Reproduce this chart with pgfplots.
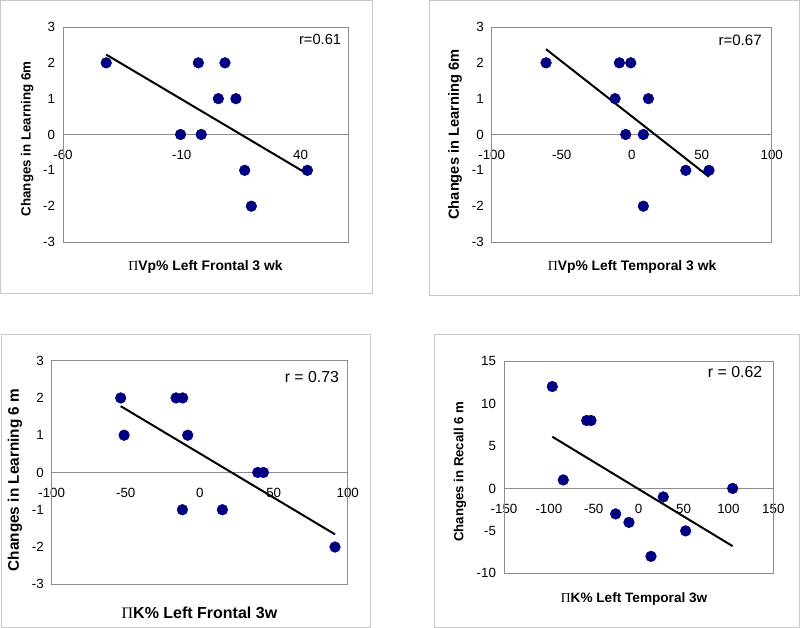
\documentclass[border=0pt]{standalone}
\usepackage{fontspec}
\setmainfont{Liberation Sans}
\newfontfamily\pifont{Liberation Serif}
\usepackage{pgfplots}
\pgfplotsset{compat=1.18}
\definecolor{navy}{RGB}{0,0,128}
\definecolor{framegray}{RGB}{200,200,200}
\definecolor{axgray}{RGB}{140,140,140}
\newcommand{\PiSym}{{\pifont\mdseries Π}}
\pgfplotsset{
  panel/.style={
    scale only axis,
    axis x line=middle, axis y line=left,
    axis line style={-, draw=axgray, line width=0.6pt},
    hide obscured x ticks=false, hide obscured y ticks=false,
    major tick length=0pt,
    tick style={draw=none},
    clip=false,
    ticklabel style={font=\fontsize{10}{12}\selectfont},
    /pgf/number format/assume math mode=true,
    xticklabel style={yshift=-8pt},
    yticklabel style={xshift=-2.5pt},
  },
  xlab/.style={every axis x label/.style={at={(axis description cs:#1)}, anchor=center, font=\bfseries}},
  ylab/.style={every axis y label/.style={at={(axis description cs:#1)}, anchor=center, rotate=90, font=\bfseries}},
  dots/.style={only marks, mark=*, mark size=4pt, mark options={fill=navy, draw=navy}},
  trend/.style={no marks, black, line width=1.5pt},
}
\begin{document}
\begin{tikzpicture}
\path[use as bounding box] (0pt,0pt) rectangle (600pt,-471pt);
% frames
\draw[framegray, line width=0.75pt] (0.375pt,-0.375pt) rectangle (279pt,-219.75pt);
\draw[framegray, line width=0.75pt] (321.75pt,-0.375pt) rectangle (599.6pt,-221.25pt);
\draw[framegray, line width=0.75pt] (1.2pt,-250.5pt) rectangle (277.5pt,-470.6pt);
\draw[framegray, line width=0.75pt] (325.7pt,-250.5pt) rectangle (599.6pt,-470.6pt);

% Panel 1
\begin{axis}[panel, at={(47.25pt,-181.5pt)}, anchor=south west,
  width=213.75pt, height=161.25pt,
  xmin=-60, xmax=60, xtick={-60,-10,40},
  ymin=-3, ymax=3, ytick={-3,-2,-1,0,1,2,3},
  xlab={0.5,-0.116}, ylab={-0.126,0.48},
  xlabel={\fontsize{10.4}{12}\selectfont\PiSym Vp\% Left Frontal 3 wk},
  ylabel={\fontsize{10}{12}\selectfont Changes in Learning 6m},
]
\draw[axgray, line width=0.6pt] (rel axis cs:0,0) rectangle (rel axis cs:1,1);
\addplot[dots] coordinates {(-41.8,2) (-10.5,0) (-3,2) (-1.8,0) (5.4,1) (8.2,2) (12.8,1) (16.5,-1) (19.3,-2) (42.9,-1)};
\addplot[trend] coordinates {(-41.8,2.23) (42.9,-1.10)};
\node[font=\fontsize{11}{13}\selectfont] at (rel axis cs:0.902,0.94) {r=0.61};
\end{axis}

% Panel 2
\begin{axis}[panel, at={(368.8pt,-181.5pt)}, anchor=south west,
  width=210pt, height=161.25pt,
  xmin=-100, xmax=100, xtick={-100,-50,0,50,100},
  ymin=-3, ymax=3, ytick={-3,-2,-1,0,1,2,3},
  xlab={0.501,-0.116}, ylab={-0.131,0.50},
  xlabel={\fontsize{10.4}{12}\selectfont\PiSym Vp\% Left Temporal 3 wk},
  ylabel={\fontsize{11}{13}\selectfont Changes in Learning 6m},
]
\draw[axgray, line width=0.6pt] (rel axis cs:0,0) rectangle (rel axis cs:1,1);
\addplot[dots] coordinates {(-61.2,2) (-8.8,2) (-0.7,2) (-11.9,1) (11.9,1) (-4.3,0) (8.3,0) (38.6,-1) (55.2,-1) (8.3,-2)};
\addplot[trend] coordinates {(-61.2,2.38) (55.2,-1.18)};
\node[font=\fontsize{11.3}{13}\selectfont] at (rel axis cs:0.887,0.94) {r=0.67};
\end{axis}

% Panel 3
\begin{axis}[panel, at={(38.8pt,-438.2pt)}, anchor=south west,
  width=222pt, height=167.7pt,
  xmin=-100, xmax=100, xtick={-100,-50,0,50,100},
  ymin=-3, ymax=3, ytick={-3,-2,-1,0,1,2,3},
  xlab={0.499,-0.128}, ylab={-0.124,0.466},
  xlabel={\fontsize{12}{14}\selectfont\PiSym K\% Left Frontal 3w},
  ylabel={\fontsize{11.5}{13}\selectfont Changes in Learning 6 m},
]
\draw[axgray, line width=0.6pt] (rel axis cs:0,0) rectangle (rel axis cs:1,1);
\addplot[dots] coordinates {(-53.4,2) (-51.1,1) (-16,2) (-11.5,2) (-8.1,1) (-11.7,-1) (15.3,-1) (39.2,0) (43,0) (91.4,-2)};
\addplot[trend] coordinates {(-53.4,1.78) (91.4,-1.66)};
\node[font=\fontsize{11.9}{14}\selectfont] at (rel axis cs:0.879,0.927) {r = 0.73};
\end{axis}

% Panel 4
\begin{axis}[panel, at={(378pt,-430pt)}, anchor=south west,
  width=202pt, height=159.2pt,
  xmin=-150, xmax=150, xtick={-150,-100,-50,0,50,100,150},
  ymin=-10, ymax=15, ytick={-10,-5,0,5,10,15},
  xlab={0.483,-0.121}, ylab={-0.163,0.479},
  xlabel={\fontsize{10.2}{12}\selectfont\PiSym K\% Left Temporal 3w},
  ylabel={\fontsize{9.9}{12}\selectfont Changes in Recall 6 m},
]
\draw[axgray, line width=0.6pt] (rel axis cs:0,0) rectangle (rel axis cs:1,1);
\addplot[dots] coordinates {(-96.2,12) (-84,1) (-57.9,8) (-53.1,8) (-25.6,-3) (-10.8,-4) (13.7,-8) (27.4,-1) (52.3,-5) (104.7,0)};
\addplot[trend] coordinates {(-96.2,6.09) (104.7,-6.8)};
\node[font=\fontsize{11.9}{14}\selectfont] at (rel axis cs:0.858,0.95) {r = 0.62};
\end{axis}
\end{tikzpicture}
\end{document}
